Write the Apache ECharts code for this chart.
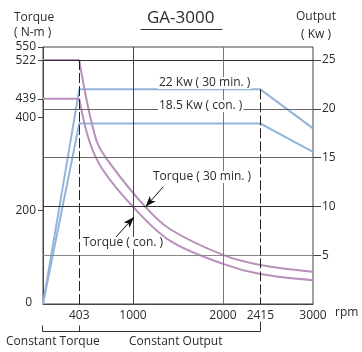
<!DOCTYPE html>
<html><head><meta charset="utf-8">
<script src="https://cdn.jsdelivr.net/npm/echarts@6/dist/echarts.min.js"></script>
<style>html,body{margin:0;padding:0;background:#fff}#c{width:362px;height:352px}</style>
</head><body><div id="c"></div>
<script>
// ---- data ----
const rpmTicks = [403, 1000, 2000, 2415, 3000];
const torqueTicks = [0, 200, 400, 439, 522, 550];
const torqueTickMarks = [200, 400, 439, 522, 550];
const outputTicks = [5, 10, 15, 20, 25];
const output30 = [[0, 0], [403, 22], [2415, 22], [3000, 18.0]];
const outputCon = [[0, 0], [403, 18.5], [2415, 18.5], [3000, 15.6]];
const torque30Flat = [[0, 522], [403, 522]];
const torque30Curve = [[403, 522], [592, 351], [748, 300], [1137, 208], [1414, 160], [2000, 105], [2415, 83.5], [3000, 69]];
const torqueConFlat = [[0, 439], [403, 439]];
const torqueConCurve = [[403, 439], [511, 351], [655, 290], [1000, 208], [1414, 135], [2000, 86], [2415, 64], [3000, 51]];
const gridOutputLines = [25, 20, 15, 10, 5];
const vLines = [1000, 2000];

const FONT = '"Open Sans", "Noto Sans", sans-serif';
const TXT = '#2b2b2b';
const PURPLE = '#b88fbb';
const BLUE = '#94b5da';

const chart = echarts.init(document.getElementById('c'), null, {renderer: 'canvas'});

const gridColors = {25: '#333', 20: '#666', 15: '#666', 10: '#333', 5: '#888'};

const option = {
  animation: false,
  backgroundColor: '#fff',
  textStyle: {fontFamily: FONT},
  grid: {left: 43, right: 49, top: 47, bottom: 48, show: true, borderColor: '#444', borderWidth: 1, backgroundColor: 'transparent'},
  xAxis: {
    type: 'value', min: 0, max: 3000,
    axisLine: {show: true, lineStyle: {color: '#444', width: 1}},
    axisTick: {show: false},
    splitLine: {show: false},
    axisLabel: {customValues: rpmTicks, margin: 6, color: TXT, fontSize: 12, fontFamily: FONT, formatter: v => String(v)}
  },
  yAxis: [{
    type: 'value', min: 0, max: 550, position: 'left',
    axisLine: {show: true, lineStyle: {color: '#444', width: 1}},
    axisTick: {show: true, customValues: torqueTickMarks, length: 5, lineStyle: {color: '#444'}},
    splitLine: {show: false},
    axisLabel: {customValues: torqueTicks, margin: 7, color: TXT, fontSize: 12, fontFamily: FONT,
      formatter: v => v === 0 ? '{z|0}' : String(v),
      rich: {z: {padding: [0, 4, 3, 0], fontSize: 12, color: TXT, fontFamily: FONT}}}
  }, {
    type: 'value', min: 0, max: 26.34, position: 'right',
    axisLine: {show: false},
    axisTick: {show: true, customValues: outputTicks, length: 8, lineStyle: {color: '#444'}},
    splitLine: {show: false},
    axisLabel: {customValues: outputTicks, margin: 9, color: TXT, fontSize: 12, fontFamily: FONT}
  }],
  series: [
    {
      type: 'line', yAxisIndex: 1, data: [], z: 1, silent: true,
      markLine: {
        silent: true, symbol: 'none', label: {show: false}, animation: false,
        data: gridOutputLines.map(v => ({yAxis: v, lineStyle: {color: gridColors[v], width: 1, type: 'solid'}}))
          .concat(vLines.map(v => ({xAxis: v, lineStyle: {color: v === 1000 ? '#444' : '#777', width: 1, type: 'solid'}})))
      }
    },
    {
      type: 'line', yAxisIndex: 1, data: output30, symbol: 'none', z: 3,
      lineStyle: {color: BLUE, width: 2},
      markLine: {silent: true, symbol: 'none', label: {show: false},
        lineStyle: {color: '#222', width: 1, type: [10, 3]},
        data: [[{coord: [2415, 22]}, {coord: [2415, 0]}]]}
    },
    {type: 'line', yAxisIndex: 1, data: outputCon, symbol: 'none', z: 3, lineStyle: {color: BLUE, width: 2}},
    {
      type: 'line', yAxisIndex: 0, data: torque30Flat, symbol: 'none', z: 3, lineStyle: {color: PURPLE, width: 2},
      markLine: {silent: true, symbol: 'none', label: {show: false},
        lineStyle: {color: '#222', width: 1, type: [10, 3]},
        data: [[{coord: [403, 522]}, {coord: [403, 0]}]]}
    },
    {
      type: 'line', yAxisIndex: 0, data: torque30Curve, symbol: 'none', z: 3, smooth: 0.35,
      lineStyle: {color: PURPLE, width: 2},
      markLine: {silent: true, symbol: ['none', 'arrow'], symbolSize: [6, 11], label: {show: false},
        lineStyle: {color: '#111', width: 1, type: 'solid'}, itemStyle: {color: '#111'},
        data: [
          [{coord: [1337, 251]}, {coord: [1139, 208]}],
          [{coord: [800, 141]}, {coord: [1011, 186]}]
        ]}
    },
    {type: 'line', yAxisIndex: 0, data: torqueConFlat, symbol: 'none', z: 3, lineStyle: {color: PURPLE, width: 2}},
    {type: 'line', yAxisIndex: 0, data: torqueConCurve, symbol: 'none', z: 3, smooth: 0.35,
      lineStyle: {color: PURPLE, width: 2}}
  ],
  graphic: [
    {type: 'text', z: 100, left: 14, top: 12, style: {text: 'Torque', fill: TXT, font: '12px ' + FONT}},
    {type: 'text', z: 100, left: 14, top: 27, style: {text: '( N-m )', fill: TXT, font: '12px ' + FONT}},
    {type: 'text', z: 100, left: 296, top: 11, style: {text: 'Output', fill: TXT, font: '12px ' + FONT}},
    {type: 'text', z: 100, left: 301, top: 29, style: {text: '( Kw )', fill: TXT, font: '12px ' + FONT}},
    {type: 'text', z: 100, left: 147, top: 10, style: {text: 'GA-3000', fill: TXT, font: '17px ' + FONT}},
    {type: 'line', z: 100, shape: {x1: 140.5, y1: 29.5, x2: 222.5, y2: 29.5}, style: {stroke: '#333', lineWidth: 1}},
    {type: 'text', z: 100, left: 158, top: 77, style: {text: '22 Kw ( 30 min. )', fill: TXT, font: '12px ' + FONT, backgroundColor: '#fff', padding: [0, 1]}},
    {type: 'text', z: 100, left: 158, top: 100, style: {text: '18.5 Kw ( con. )', fill: TXT, font: '12px ' + FONT, backgroundColor: '#fff', padding: [0, 1]}},
    {type: 'text', z: 100, left: 152, top: 171, style: {text: 'Torque ( 30 min. )', fill: TXT, font: '12px ' + FONT, backgroundColor: '#fff', padding: [0, 1]}},
    {type: 'text', z: 100, left: 82, top: 237, style: {text: 'Torque ( con. )', fill: TXT, font: '12px ' + FONT, backgroundColor: '#fff', padding: [0, 1]}},
    {type: 'text', z: 100, left: 335, top: 307, style: {text: 'rpm', fill: TXT, font: '12px ' + FONT}},
    {type: 'polyline', z: 100, shape: {points: [[42.5, 325.5], [42.5, 331.5], [260.5, 331.5], [260.5, 321.5]]}, style: {stroke: '#333', lineWidth: 1, fill: null}},
    {type: 'line', z: 100, shape: {x1: 79.5, y1: 325.5, x2: 79.5, y2: 331.5}, style: {stroke: '#333', lineWidth: 1}},
    {type: 'text', z: 100, left: 6, top: 336, style: {text: 'Constant Torque', fill: TXT, font: '12px ' + FONT}},
    {type: 'text', z: 100, left: 129, top: 336, style: {text: 'Constant Output', fill: TXT, font: '12px ' + FONT}}
  ]
};
chart.setOption(option);
</script>
</body></html>
